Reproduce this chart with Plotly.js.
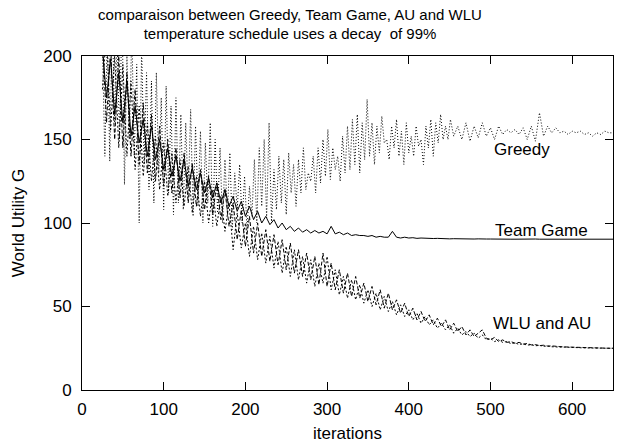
<!DOCTYPE html>
<html>
<head>
<meta charset="utf-8">
<script src="https://cdn.plot.ly/plotly-3.0.1.min.js"></script>
<style>html,body{margin:0;padding:0;background:#fff;}#chart{width:623px;height:445px;}</style>
</head>
<body>
<div id="chart"></div>
<script>
const iterations = [
  25,30,35,40,45,50,55,60,65,70,
  75,80,85,90,95,100,105,110,115,120,
  125,130,135,140,145,150,155,160,165,170,
  175,180,185,190,195,200,205,210,215,220,
  225,230,235,240,245,250,255,260,265,270,
  275,280,285,290,295,300,305,310,315,320,
  325,330,335,340,345,350,355,360,365,370,
  375,380,385,390,395,400,405,410,415,420,
  425,430,435,440,445,450,455,460,465,470,
  475,480,485,490,495,500,505,510,515,520,
  525,530,535,540,545,550,555,560,565,570,
  575,580,585,590,595,600,605,610,615,620,
  625,630,635,640,645,650
];
const greedyIterations = [
  25,28,31,34,37,40,43,46,49,52,
  55,58,61,64,67,70,73,76,79,82,
  85,88,91,94,97,100,103,106,109,112,
  115,118,121,124,127,130,133,136,139,142,
  145,148,151,154,157,160,163,166,169,172,
  175,178,181,184,187,190,193,196,199,202,
  205,208,211,214,217,220,223,226,229,232,
  235,238,241,244,247,250,253,256,259,262,
  265,268,271,274,277,280,283,286,289,292,
  295,298,301,304,307,310,313,316,319,322,
  325,328,331,334,337,340,343,346,349,352,
  355,358,361,364,367,370,373,376,379,382,
  385,388,391,394,397,400,403,406,409,412,
  415,418,421,424,427,430,433,436,439,442,
  445,448,451,
  455,460,465,470,475,480,485,490,495,500,
  505,510,515,520,525,530,535,540,545,550,
  555,560,565,570,575,580,585,590,595,600,
  605,610,615,620,625,630,635,640,645,650
];
const greedy = [
  205,140,215,137,225,160,210,150,230,123,
  200,150,215,140,195,100,205,135,190,120,
  185,112,190,130,175,108,182,118,170,105,
  175,112,165,108,160,115,168,104,158,110,
  155,100,148,112,160,98,150,106,145,100,
  138,105,142,96,130,108,135,100,128,96,
  122,104,138,100,145,110,150,103,160,100,
  132,108,140,112,138,105,142,118,135,110,
  138,118,145,120,130,125,140,118,145,124,
  150,128,156,126,145,132,140,125,152,130,
  158,132,162,135,165,130,160,138,174,140,
  160,135,158,142,164,148,150,138,158,145,
  162,140,155,135,160,142,152,140,158,146,
  150,135,158,145,162,140,160,148,165,150,
  158,150,162,
  152,158,150,160,149,158,151,160,152,157,
  150,158,153,156,154,156,153,157,150,158,
  149,166,152,158,154,157,154,155,153,155,
  154,155,153,154,152,154,153,155,154,154
];
const teamGame = [
  205,175,198,165,190,160,185,152,170,148,
  162,140,158,138,150,132,145,128,140,125,
  138,122,133,120,130,118,127,115,124,112,
  120,110,116,107,113,104,110,102,107,100,
  104,99,102,97,100,96,98,95,97,94.5,
  96,94,95.5,94,95,93.5,98,93.5,94.5,93,
  94,92.5,93,92.5,92.5,92,92.5,91.5,92,91.5,
  91.5,95,91.5,91,91.5,91,91.2,90.8,91,90.8,
  90.9,90.7,90.8,90.6,90.7,90.5,90.6,90.5,90.4,90.5,
  90.4,90.4,90.5,90.3,90.4,90.4,90.3,90.4,90.3,90.4,
  90.3,90.3,90.4,90.3,90.3,90.3,90.4,90.3,90.3,90.3,
  90.3,90.3,90.3,90.3,90.3,90.3,90.3,90.3,90.3,90.3,
  90.3,90.3,90.3,90.3,90.3,90.3
];
const wlu = [
  210,160,205,150,200,145,190,140,180,135,
  172,130,165,125,158,122,150,118,145,115,
  142,112,136,110,132,108,128,105,124,102,
  120,98,112,90,108,86,104,82,100,80,
  96,77,93,75,90,72,88,70,84,68,
  82,66,80,63,82,62,76,60,72,58,
  70,56,68,55,64,53,62,51,60,49,
  58,48,54,46,52,44,49,42,47,41,
  45,39,43,38,42,36,40,35,38,33,
  36,32,34,36,31,30,31.5,29,30,28.5,
  29,28,28.5,27.5,27.8,27,27.2,26.6,26.8,26.3,
  26.4,26,26,25.8,25.7,25.5,25.4,25.3,25.2,25.2,
  25.1,25.1,25,25,25,25
];
const au = [
  180,215,155,200,145,195,140,185,132,170,
  128,160,125,152,120,148,116,142,112,138,
  110,134,106,128,104,125,100,120,98,116,
  95,112,84,106,85,100,80,98,78,94,
  76,92,73,89,70,86,68,84,66,80,
  64,78,62,76,64,80,60,72,57,68,
  55,66,54,63,52,60,50,58,48,56,
  47,53,45,51,44,48,42,46,40,44,
  39,42,37,40,36,39,34,37,33,35,
  32,34,31,33,30,31,29,30,28.5,29,
  27.8,28.2,27.3,27.6,26.9,27.1,26.5,26.7,26.2,26.3,
  25.9,26,25.7,25.7,25.5,25.5,25.3,25.3,25.2,25.1,
  25.1,25,25,25,25,25
];
const labels = ["Greedy", "Team Game", "WLU and AU"];
const labelX = [502, 503, 501];
const labelY = [144, 95.5, 39.8];

const font = "Liberation Sans, Arial, Helvetica, sans-serif";
const traces = [
  {x: greedyIterations, y: greedy, name: "Greedy", mode: "lines",
   line: {color: "#000", width: 1, dash: "1px,2px"}},
  {x: iterations, y: teamGame, name: "Team Game", mode: "lines",
   line: {color: "#000", width: 1, dash: "solid"}},
  {x: iterations, y: wlu, name: "WLU", mode: "lines",
   line: {color: "#000", width: 1, dash: "4px,2px"}},
  {x: iterations, y: au, name: "AU", mode: "lines",
   line: {color: "#000", width: 1, dash: "2px,2px"}}
];
const axisCommon = {
  showline: true, linecolor: "#000", linewidth: 1, mirror: "ticks",
  ticks: "inside", ticklen: 8, tickcolor: "#000", tickwidth: 1,
  showgrid: false, zeroline: false,
  tickfont: {family: font, size: 17, color: "#000"}
};
const layout = {
  width: 623, height: 445,
  margin: {l: 82, r: 10, t: 56, b: 55},
  paper_bgcolor: "#fff", plot_bgcolor: "#fff",
  showlegend: false,
  font: {family: font, color: "#000"},
  title: {
    text: "comparaison between Greedy, Team Game, AU and WLU<br>temperature schedule uses a decay  of 99%",
    font: {family: font, size: 15, color: "#000"},
    x: 290 / 623, xref: "container", xanchor: "center",
    y: 0.956, yref: "container", yanchor: "top"
  },
  xaxis: Object.assign({}, axisCommon, {
    range: [0, 650], tickvals: [0, 100, 200, 300, 400, 500, 600],
    ticklabelstandoff: 4,
    title: {text: "iterations", font: {family: font, size: 17, color: "#000"}, standoff: 8}
  }),
  yaxis: Object.assign({}, axisCommon, {
    range: [0, 200], tickvals: [0, 50, 100, 150, 200],
    ticklabelstandoff: 6,
    title: {text: "World Utility G", font: {family: font, size: 17, color: "#000"}, standoff: 14}
  }),
  annotations: labels.map((t, i) => ({
    text: t, x: labelX[i], y: labelY[i], xref: "x", yref: "y",
    xanchor: "left", yanchor: "middle", showarrow: false,
    font: {family: font, size: 17, color: "#000"}
  }))
};
Plotly.newPlot("chart", traces, layout, {displayModeBar: false, staticPlot: true});
</script>
</body>
</html>
